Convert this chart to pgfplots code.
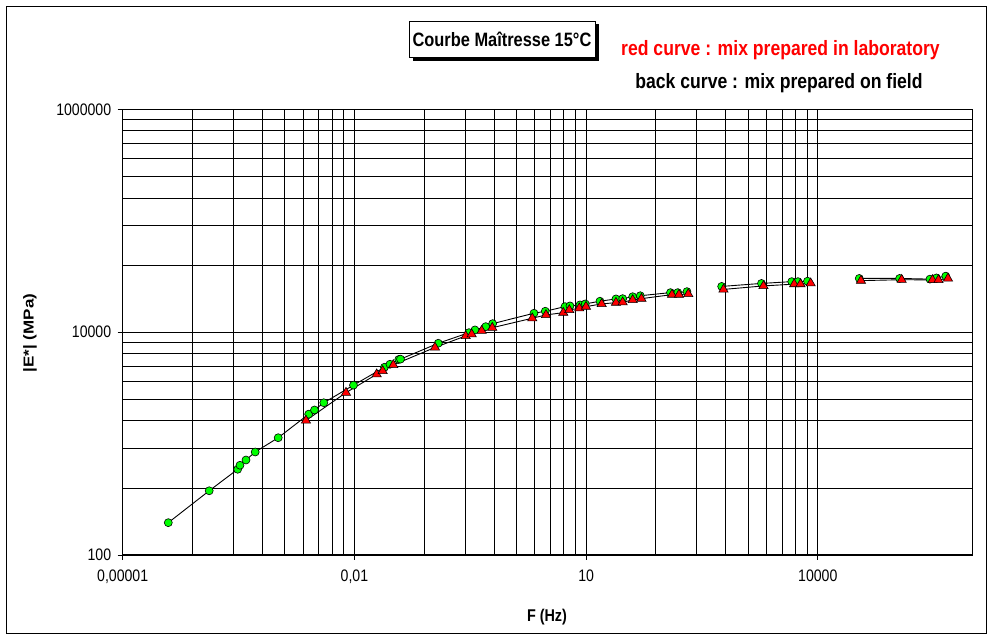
\documentclass[border=0pt]{standalone}
\usepackage{fontspec}
\setmainfont{Liberation Sans}
\usepackage{graphicx}
\usepackage{pgfplots}
\pgfplotsset{compat=1.18}
\newcommand{\st}[1]{\scalebox{1}[1.18]{#1}}
\definecolor{mkgreen}{RGB}{0,255,0}
\definecolor{mkred}{RGB}{255,0,0}
\begin{document}
\begin{tikzpicture}[x=1pt,y=1pt]
\path[use as bounding box] (0,0) rectangle (989,636);
\fill[white] (0,0) rectangle (989,636);
\draw[black, line width=1pt] (6,629) rectangle (986,2);
% title box with shadow
\fill[black] (413,575) rectangle (599,612);
\draw[black, fill=white, line width=0.8pt] (409,579) rectangle (595,615);
\node at (502,597) {\fontsize{16.4}{16.4}\selectfont\bfseries\st{Courbe Maîtresse 15°C}};
\node[text=mkred] at (780.5,586) {\fontsize{17.6}{17.6}\selectfont\bfseries\st{red curve : mix prepared in laboratory}};
\node[text=black] at (779,553) {\fontsize{17.6}{17.6}\selectfont\bfseries\st{back curve : mix prepared on field}};
\node at (547,19) {\fontsize{14.4}{14.4}\selectfont\bfseries\st{F (Hz)}};
\node[rotate=90] at (30,303) {\fontsize{14.4}{14.4}\selectfont\bfseries\scalebox{1.18}[1]{|E*| (MPa)}};
\begin{axis}[
  at={(122.7pt,81pt)}, anchor=south west,
  scale only axis, width=849.6pt, height=445.7pt,
  xmode=log, ymode=log,
  xmin=1e-5, xmax=1e6, ymin=100, ymax=1e6,
  xtick={1e-5,1e-2,10,1e4},
  xticklabels={\st{0,00001},\st{0,01},\st{10},\st{10000}},
  ytick={100,1e4,1e6},
  yticklabels={\st{100},\st{10000},\st{1000000}},
  minor xtick={8e-5,2.7e-4,6.4e-4,1.25e-3,2.16e-3,3.43e-3,5.12e-3,7.29e-3,
               8e-2,0.27,0.64,1.25,2.16,3.43,5.12,7.29,
               80,270,640,1250,2160,3430,5120,7290},
  minor ytick={400,900,1600,2500,3600,4900,6400,8100,
               4e4,9e4,1.6e5,2.5e5,3.6e5,4.9e5,6.4e5,8.1e5},
  grid=both,
  major grid style={black, line width=0.8pt},
  minor grid style={black, line width=0.8pt},
  tick align=outside,
  xtick pos=left, ytick pos=left,
  major tick length=5pt, minor tick length=0pt,
  tick style={black, line width=0.8pt},
  tick label style={font=\fontsize{14.1}{14.1}\selectfont},
  xticklabel style={yshift=-6pt},
  yticklabel style={xshift=-3pt},
  axis line style={black, line width=0.8pt},
]
\pgfplotsset{gser/.style={black, line width=0.9pt, mark=*, mark size=4pt,
   mark options={fill=mkgreen, draw=black, line width=0.6pt, solid}}}
\pgfplotsset{rser/.style={black, line width=0.9pt, mark=triangle*, mark size=5.3pt,
   mark options={fill=mkred, draw=black, line width=0.6pt, solid}}}
% field mix (green circles)
\addplot[gser] coordinates {
(3.894e-5,195) (1.318e-4,377) (3.083e-4,588) (3.301e-4,639) (3.948e-4,712)
(5.193e-4,840) (1.031e-3,1128) (2.559e-3,1836) (3.042e-3,2002) (4.015e-3,2324)
(9.73e-3,3343) (0.02451,4840) (0.02888,5150) (0.03756,5687) (0.03951,5723)
(0.1219,7950) (0.3043,9897) (0.364,10464) (0.5023,11205) (0.6169,11920)
(2.113,14780) (2.96,15400) (5.325,16940) (6.18,17190) (8.327,17550)
(9.75,17920) (15.11,18950) (24.35,19860) (29.74,19980) (40.07,20790)
(50.25,21220) (123.6,22630) (153.7,22630) (202.2,23100)
};
\addplot[gser] coordinates {
(568.9,25720) (1864,27360) (4598,28400) (5534,28400) (7344,28640)
};
\addplot[gser] coordinates {
(34400,30340) (114400,30340) (283000,29910) (343600,30660) (453400,31820)
};
% laboratory mix (red triangles)
\addplot[rser] coordinates {
(2.36e-3,1612) (7.78e-3,2863) (0.01943,4190) (0.02323,4484) (0.03187,5076)
(0.1105,7290) (0.2759,9245) (0.33,9574) (0.4444,10295) (0.6096,10955)
(2.009,13330) (3.022,14270) (5.062,14960) (6.053,15820) (8.155,16390)
(9.96,16940) (15.9,17920) (24.35,18400) (29.74,18550) (40.07,19450)
(52.08,19980) (129.3,21710) (159.3,21710) (210.2,22030)
};
\addplot[rser] coordinates {
(600.2,24170) (1978,25990) (4940,26970) (5962,26970) (8078,27480)
};
\addplot[rser] coordinates {
(36180,29000) (121750,29540) (305000,29420) (364700,29420) (484100,30340)
};
\draw[black, line width=1.6pt] (rel axis cs:0,1) -- (rel axis cs:0,0) -- (rel axis cs:1,0);
\end{axis}
\end{tikzpicture}
\end{document}
